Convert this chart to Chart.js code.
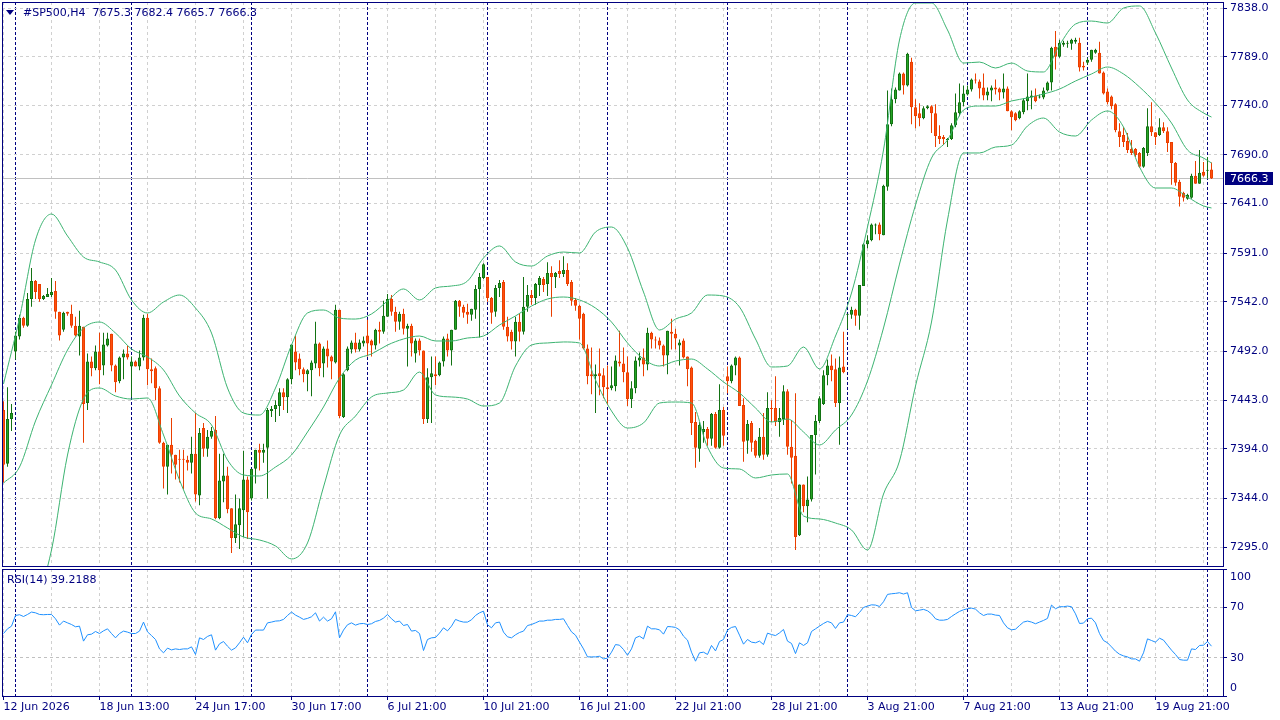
<!DOCTYPE html>
<html>
<head>
<meta charset="utf-8">
<title>#SP500,H4</title>
<script src="https://cdn.jsdelivr.net/npm/chart.js@4.4.1/dist/chart.umd.min.js"></script>
<style>
  html, body { margin: 0; padding: 0; background: #fff; overflow: hidden; }
  #wrap { position: relative; width: 1280px; height: 720px; }
  .pane { position: absolute; left: 0; width: 1280px; }
</style>
</head>
<body>
<div id="wrap">
  <div class="pane" style="top:0;height:568px"><canvas id="priceChart"></canvas></div>
  <div class="pane" style="top:567px;height:153px"><canvas id="rsiChart"></canvas></div>
</div>
<script>
// Chart values
const symbol = '#SP500,H4';

const opens = [
  7433, 7379, 7424, 7492, 7507, 7526, 7518, 7545, 7563, 7560,
  7545, 7547, 7549, 7553, 7532, 7514, 7532, 7530, 7518, 7507,
  7517, 7440, 7482, 7475, 7492, 7478, 7498, 7510, 7478, 7462,
  7486, 7490, 7477, 7482, 7477, 7486, 7526, 7474, 7475, 7455,
  7400, 7376, 7398, 7388, 7384, 7384, 7383, 7380, 7389, 7347,
  7415, 7394, 7406, 7413, 7324, 7361, 7367, 7334, 7304, 7317,
  7332, 7363, 7344, 7374, 7393, 7390, 7395, 7432, 7434, 7437,
  7451, 7446, 7464, 7492, 7485, 7474, 7469, 7473, 7480, 7500,
  7480, 7495, 7487, 7481, 7534, 7426, 7473, 7494, 7501, 7494,
  7500, 7508, 7503, 7498, 7514, 7512, 7527, 7545, 7532, 7522,
  7530, 7515, 7518, 7490, 7503, 7493, 7424, 7466, 7469, 7468,
  7482, 7505, 7493, 7514, 7543, 7537, 7532, 7529, 7534, 7555,
  7566, 7567, 7546, 7532, 7556, 7562, 7517, 7512, 7502, 7522,
  7512, 7537, 7549, 7546, 7559, 7565, 7560, 7571, 7567, 7573,
  7570, 7574, 7562, 7544, 7538, 7530, 7495, 7469, 7467, 7470,
  7468, 7456, 7455, 7457, 7482, 7480, 7471, 7444, 7455, 7483,
  7486, 7479, 7511, 7504, 7503, 7498, 7488, 7512, 7510, 7498,
  7503, 7487, 7476, 7421, 7394, 7411, 7414, 7404, 7429, 7395,
  7433, 7467, 7462, 7478, 7486, 7438, 7402, 7420, 7402, 7387,
  7406, 7388, 7435, 7435, 7421, 7424, 7452, 7396, 7387, 7307,
  7358, 7336, 7343, 7408, 7422, 7439, 7468, 7478, 7474, 7440,
  7477, 7529, 7529, 7534, 7528, 7558, 7600, 7604, 7619, 7620,
  7609, 7658, 7721, 7746, 7755, 7772, 7760, 7784, 7738, 7732,
  7727, 7737, 7739, 7732, 7709, 7708, 7705, 7706, 7720, 7732,
  7743, 7751, 7756, 7766, 7764, 7758, 7750, 7755, 7758, 7757,
  7753, 7757, 7734, 7732, 7727, 7733, 7744, 7748, 7750, 7748,
  7748, 7755, 7763, 7799, 7789, 7801, 7802, 7802, 7804, 7803,
  7780, 7783, 7786, 7793, 7793, 7773, 7754, 7749, 7741, 7714,
  7710, 7704, 7696, 7696, 7692, 7678, 7692, 7719, 7713, 7710,
  7718, 7714, 7703, 7682, 7663, 7652, 7646, 7647, 7669, 7661,
  7673, 7674, 7675.3
];
const highs = [
  7442, 7456, 7439, 7512, 7529, 7527, 7551, 7576, 7564, 7560,
  7549, 7556, 7566, 7563, 7532, 7532, 7532, 7539, 7527, 7533,
  7517, 7490, 7487, 7498, 7511, 7511, 7511, 7510, 7479, 7487,
  7494, 7498, 7487, 7483, 7493, 7529, 7530, 7485, 7477, 7457,
  7401, 7398, 7425, 7388, 7393, 7393, 7387, 7406, 7430, 7415,
  7420, 7413, 7416, 7427, 7389, 7389, 7376, 7334, 7348, 7344,
  7392, 7366, 7374, 7393, 7399, 7399, 7435, 7437, 7443, 7455,
  7455, 7465, 7499, 7508, 7490, 7476, 7474, 7483, 7522, 7501,
  7497, 7503, 7488, 7539, 7534, 7470, 7497, 7503, 7511, 7504,
  7507, 7524, 7504, 7515, 7522, 7543, 7550, 7549, 7537, 7532,
  7535, 7520, 7520, 7505, 7505, 7493, 7475, 7487, 7487, 7482,
  7507, 7510, 7514, 7544, 7544, 7539, 7540, 7535, 7559, 7571,
  7581, 7567, 7547, 7559, 7564, 7564, 7527, 7514, 7527, 7530,
  7567, 7559, 7554, 7561, 7568, 7567, 7582, 7578, 7572, 7584,
  7588, 7581, 7564, 7546, 7539, 7531, 7499, 7496, 7479, 7495,
  7475, 7478, 7477, 7488, 7513, 7496, 7487, 7462, 7487, 7491,
  7495, 7516, 7512, 7507, 7506, 7499, 7513, 7525, 7515, 7504,
  7505, 7487, 7477, 7431, 7421, 7422, 7416, 7430, 7431, 7459,
  7436, 7477, 7479, 7487, 7487, 7445, 7423, 7422, 7403, 7415,
  7430, 7451, 7443, 7467, 7435, 7458, 7454, 7423, 7450, 7358,
  7358, 7366, 7408, 7428, 7447, 7473, 7484, 7489, 7485, 7487,
  7512, 7530, 7537, 7535, 7559, 7601, 7609, 7621, 7621, 7622,
  7660, 7755, 7757, 7758, 7773, 7773, 7793, 7788, 7746, 7742,
  7739, 7740, 7740, 7741, 7720, 7710, 7707, 7722, 7752, 7762,
  7760, 7760, 7767, 7772, 7766, 7772, 7758, 7760, 7766, 7758,
  7772, 7759, 7735, 7733, 7735, 7747, 7772, 7755, 7757, 7751,
  7758, 7764, 7799, 7815, 7806, 7805, 7805, 7807, 7808, 7808,
  7784, 7788, 7796, 7797, 7804, 7774, 7757, 7750, 7742, 7722,
  7718, 7712, 7705, 7697, 7693, 7698, 7737, 7743, 7713, 7727,
  7723, 7718, 7703, 7683, 7665, 7653, 7651, 7671, 7684, 7695,
  7683, 7688, 7682.4
];
const lows = [
  7360, 7376, 7412, 7484, 7504, 7516, 7517, 7537, 7545, 7542,
  7544, 7547, 7547, 7525, 7503, 7512, 7528, 7516, 7507, 7488,
  7400, 7433, 7467, 7473, 7459, 7468, 7497, 7472, 7451, 7460,
  7464, 7484, 7446, 7477, 7473, 7483, 7458, 7460, 7443, 7399,
  7354, 7348, 7369, 7363, 7360, 7353, 7372, 7369, 7341, 7337,
  7386, 7386, 7404, 7323, 7323, 7340, 7329, 7289, 7299, 7293,
  7305, 7303, 7342, 7359, 7372, 7380, 7344, 7426, 7421, 7427,
  7433, 7430, 7459, 7473, 7468, 7461, 7452, 7447, 7475, 7467,
  7466, 7476, 7464, 7480, 7425, 7425, 7472, 7490, 7491, 7492,
  7497, 7487, 7487, 7494, 7500, 7510, 7527, 7528, 7512, 7514,
  7509, 7477, 7487, 7481, 7488, 7419, 7420, 7420, 7458, 7467,
  7477, 7487, 7478, 7514, 7527, 7526, 7520, 7523, 7525, 7506,
  7565, 7542, 7520, 7527, 7547, 7514, 7502, 7494, 7487, 7502,
  7509, 7532, 7539, 7539, 7548, 7552, 7548, 7527, 7556, 7566,
  7567, 7558, 7538, 7533, 7504, 7494, 7459, 7449, 7430, 7448,
  7445, 7438, 7453, 7452, 7477, 7461, 7437, 7435, 7450, 7477,
  7467, 7473, 7495, 7495, 7494, 7477, 7469, 7494, 7494, 7478,
  7485, 7457, 7408, 7375, 7381, 7400, 7397, 7397, 7394, 7394,
  7397, 7450, 7460, 7468, 7437, 7381, 7389, 7391, 7385, 7385,
  7383, 7386, 7421, 7417, 7406, 7418, 7388, 7359, 7292, 7306,
  7330, 7320, 7341, 7368, 7420, 7438, 7458, 7462, 7436, 7398,
  7470, 7515, 7525, 7518, 7514, 7558, 7596, 7603, 7610, 7604,
  7609, 7654, 7719, 7742, 7755, 7751, 7759, 7721, 7717, 7719,
  7726, 7736, 7712, 7698, 7701, 7700, 7698, 7705, 7718, 7729,
  7739, 7750, 7754, 7762, 7747, 7745, 7745, 7744, 7751, 7745,
  7747, 7734, 7715, 7724, 7726, 7731, 7735, 7736, 7743, 7747,
  7746, 7754, 7755, 7776, 7788, 7799, 7798, 7796, 7802, 7774,
  7775, 7781, 7784, 7792, 7772, 7751, 7741, 7736, 7713, 7698,
  7698, 7692, 7690, 7688, 7677, 7677, 7689, 7709, 7700, 7709,
  7712, 7693, 7660, 7659, 7638, 7643, 7645, 7646, 7661, 7661,
  7668, 7666, 7665.7
];
const closes = [
  7378, 7424, 7430, 7508, 7526, 7518, 7545, 7563, 7552, 7545,
  7548, 7550, 7552, 7532, 7508, 7531, 7530, 7518, 7508, 7518,
  7439, 7482, 7475, 7492, 7473, 7499, 7505, 7478, 7461, 7486,
  7490, 7486, 7482, 7477, 7486, 7526, 7474, 7472, 7455, 7400,
  7376, 7398, 7388, 7378, 7383, 7383, 7380, 7389, 7348, 7410,
  7394, 7406, 7412, 7324, 7362, 7367, 7333, 7304, 7318, 7334,
  7363, 7330, 7374, 7393, 7390, 7393, 7433, 7434, 7438, 7451,
  7446, 7464, 7499, 7481, 7474, 7469, 7473, 7481, 7500, 7475,
  7495, 7487, 7482, 7534, 7427, 7469, 7495, 7501, 7494, 7501,
  7503, 7500, 7498, 7514, 7512, 7528, 7545, 7532, 7522, 7530,
  7515, 7518, 7500, 7503, 7493, 7424, 7466, 7470, 7467, 7481,
  7505, 7493, 7514, 7543, 7537, 7531, 7529, 7535, 7555, 7567,
  7580, 7546, 7531, 7556, 7561, 7517, 7507, 7502, 7522, 7512,
  7537, 7549, 7546, 7560, 7566, 7559, 7571, 7567, 7571, 7570,
  7574, 7560, 7543, 7538, 7525, 7495, 7467, 7467, 7469, 7467,
  7456, 7454, 7458, 7483, 7480, 7471, 7444, 7455, 7483, 7486,
  7479, 7511, 7504, 7503, 7498, 7488, 7513, 7510, 7505, 7501,
  7486, 7474, 7420, 7395, 7418, 7414, 7404, 7429, 7395, 7433,
  7407, 7462, 7478, 7486, 7437, 7401, 7419, 7400, 7387, 7406,
  7388, 7435, 7434, 7421, 7425, 7452, 7396, 7385, 7305, 7358,
  7336, 7343, 7408, 7422, 7445, 7468, 7478, 7473, 7440, 7476,
  7471, 7530, 7534, 7528, 7559, 7600, 7604, 7620, 7620, 7610,
  7659, 7721, 7746, 7756, 7772, 7760, 7792, 7738, 7729, 7727,
  7737, 7739, 7732, 7709, 7706, 7706, 7706, 7720, 7733, 7743,
  7752, 7756, 7766, 7765, 7757, 7750, 7754, 7758, 7756, 7753,
  7757, 7734, 7728, 7725, 7734, 7745, 7749, 7750, 7744, 7749,
  7755, 7763, 7798, 7789, 7803, 7803, 7803, 7806, 7806, 7778,
  7778, 7786, 7796, 7796, 7772, 7752, 7743, 7739, 7715, 7708,
  7703, 7695, 7692, 7690, 7678, 7697, 7719, 7713, 7708, 7718,
  7714, 7702, 7682, 7662, 7648, 7647, 7650, 7669, 7661, 7672,
  7669, 7675, 7666.3
];

// Bollinger Bands (20, 2), read at every fourth bar
const bandIdx = [
  0, 4, 8, 12, 16, 20, 24, 28, 32, 36, 40, 44, 48, 52, 56, 60, 64, 68, 72, 76,
  80, 84, 88, 92, 96, 100, 104, 108, 112, 116, 120, 124, 128, 132, 136, 140, 144, 148, 152, 156,
  160, 164, 168, 172, 176, 180, 184, 188, 192, 196, 200, 204, 208, 212, 216, 220, 224, 228, 232, 236,
  240, 244, 248, 252, 256, 260, 264, 268, 272, 276, 280, 284, 288, 292, 296, 300, 302
];
const bbUpper = [
  7459.3, 7525.7, 7604.3, 7630.5, 7608.4, 7587.2, 7582.2, 7574.1, 7543.9, 7530.8,
  7541.9, 7548.9, 7535.8, 7510.6, 7455.2, 7430.0, 7428.0, 7455.2, 7498.5, 7530.8,
  7533.8, 7525.7, 7524.7, 7529.8, 7542.9, 7555.0, 7543.9, 7556.0, 7558.0, 7563.0,
  7586.2, 7598.3, 7582.2, 7578.1, 7588.2, 7592.2, 7591.2, 7612.4, 7617.4, 7596.3,
  7551.9, 7513.7, 7524.7, 7530.8, 7548.9, 7547.9, 7536.8, 7504.6, 7476.4, 7477.4,
  7496.5, 7474.4, 7507.6, 7550.9, 7617.4, 7695.0, 7805.8, 7843.1, 7843.1, 7815.9,
  7782.6, 7783.6, 7777.6, 7782.6, 7774.6, 7773.6, 7800.8, 7821.9, 7824.9, 7822.9,
  7838.0, 7840.1, 7812.9, 7777.6, 7745.4, 7732.3, 7728.2
];
const bbMiddle = [
  7359.5, 7375.6, 7422.0, 7458.3, 7493.5, 7515.7, 7521.7, 7510.6, 7494.5, 7486.5,
  7473.4, 7447.2, 7430.0, 7418.0, 7382.7, 7367.6, 7366.6, 7375.6, 7387.7, 7410.9,
  7436.1, 7465.3, 7483.4, 7489.5, 7498.5, 7504.6, 7507.6, 7502.6, 7502.6, 7505.6,
  7507.6, 7518.7, 7527.8, 7537.8, 7544.9, 7546.9, 7543.9, 7535.8, 7521.7, 7500.6,
  7484.4, 7477.4, 7482.4, 7484.4, 7474.4, 7461.3, 7450.2, 7435.1, 7421.0, 7424.0,
  7410.9, 7397.8, 7412.9, 7428.0, 7462.3, 7515.7, 7580.1, 7639.6, 7686.9, 7705.1,
  7735.3, 7739.3, 7739.3, 7744.4, 7747.4, 7751.4, 7756.4, 7764.5, 7771.6, 7778.6,
  7771.6, 7758.5, 7742.3, 7722.2, 7695.0, 7686.9, 7681.9
];
const bbLower = [
  7259.8, 7225.5, 7239.6, 7292.0, 7387.7, 7444.1, 7455.2, 7447.2, 7444.1, 7445.2,
  7407.9, 7362.5, 7329.3, 7323.3, 7314.2, 7305.1, 7302.1, 7296.1, 7283.0, 7299.1,
  7355.5, 7407.9, 7427.0, 7446.2, 7450.2, 7453.2, 7471.3, 7448.2, 7446.2, 7444.1,
  7437.1, 7440.1, 7477.4, 7498.5, 7500.6, 7501.6, 7500.6, 7463.3, 7432.1, 7414.9,
  7420.0, 7440.1, 7441.1, 7440.1, 7395.8, 7374.6, 7373.6, 7364.6, 7367.6, 7368.6,
  7326.3, 7323.3, 7319.2, 7312.2, 7292.0, 7348.4, 7381.7, 7457.2, 7521.7, 7624.5,
  7692.0, 7692.0, 7698.0, 7700.0, 7719.2, 7727.2, 7713.1, 7709.1, 7725.2, 7734.3,
  7718.2, 7677.9, 7656.7, 7656.7, 7647.6, 7638.6, 7636.6
];

// RSI(14), one value per bar
const rsiValues = [
  49.2, 52.9, 55.0, 63.4, 64.0, 62.6, 64.2, 66.1, 65.5, 64.2,
  64.0, 64.2, 64.2, 60.8, 55.8, 59.0, 57.6, 56.3, 54.5, 55.0,
  43.2, 48.2, 48.7, 50.8, 49.2, 51.3, 52.9, 49.2, 45.8, 49.2,
  51.1, 50.3, 49.2, 49.2, 51.1, 58.2, 50.5, 47.6, 44.5, 37.1,
  34.0, 37.7, 36.3, 37.1, 36.6, 37.1, 37.1, 38.7, 32.7, 45.8,
  44.5, 46.9, 48.2, 36.1, 41.1, 42.9, 39.2, 36.1, 37.9, 41.9,
  46.3, 41.9, 48.4, 51.9, 51.9, 51.9, 57.6, 58.2, 59.0, 59.2,
  60.3, 63.4, 66.1, 63.7, 62.1, 60.3, 61.1, 62.4, 65.5, 59.0,
  62.1, 59.0, 60.8, 66.3, 45.8, 51.9, 56.1, 57.6, 55.8, 56.9,
  57.1, 56.3, 56.9, 58.7, 59.5, 61.3, 64.2, 60.8, 58.2, 59.0,
  55.5, 56.3, 51.1, 51.6, 49.2, 35.8, 44.5, 45.8, 46.1, 49.5,
  53.7, 51.3, 55.0, 60.3, 59.0, 58.2, 58.2, 60.0, 63.4, 65.5,
  66.8, 56.1, 53.7, 57.6, 58.2, 50.3, 46.6, 45.8, 48.2, 50.0,
  51.1, 55.5, 56.3, 57.6, 59.0, 59.0, 59.7, 59.7, 60.3, 60.3,
  60.8, 55.5, 50.5, 47.9, 42.4, 37.1, 30.8, 30.8, 30.8, 31.3,
  29.2, 29.8, 34.5, 40.5, 40.0, 36.6, 32.1, 37.1, 45.8, 47.1,
  45.0, 55.0, 52.9, 52.9, 52.1, 48.7, 54.7, 54.5, 54.0, 52.1,
  47.1, 44.0, 34.5, 27.4, 34.0, 34.5, 32.7, 39.8, 35.5, 42.9,
  44.5, 51.9, 54.0, 54.7, 47.9, 40.8, 44.5, 42.4, 41.9, 43.2,
  40.5, 49.5, 48.4, 47.6, 49.7, 52.4, 43.2, 41.4, 33.4, 41.9,
  39.8, 41.9, 50.8, 52.9, 55.0, 57.1, 58.7, 57.6, 53.2, 57.6,
  58.2, 64.0, 63.4, 62.4, 65.8, 69.7, 70.8, 71.8, 71.6, 70.5,
  74.2, 80.0, 80.5, 80.8, 81.3, 80.3, 81.3, 69.7, 67.1, 67.6,
  68.2, 67.1, 64.7, 60.8, 59.7, 59.7, 60.3, 62.6, 64.7, 66.6,
  67.9, 68.7, 69.2, 68.4, 65.5, 63.4, 64.5, 64.5, 63.7, 63.4,
  57.6, 53.7, 52.1, 52.6, 55.5, 58.2, 59.0, 58.2, 56.9, 58.2,
  59.5, 61.1, 71.6, 68.7, 70.3, 70.3, 70.8, 70.3, 64.7, 57.1,
  57.4, 60.8, 61.3, 57.6, 49.2, 43.7, 41.9, 38.7, 35.3, 32.9,
  31.6, 30.8, 29.2, 29.2, 27.4, 34.0, 45.0, 43.7, 42.4, 45.5,
  44.0, 40.0, 36.1, 32.7, 28.7, 28.2, 28.2, 37.1, 36.6, 39.8,
  40.0, 42.9, 39.2188
];

// Axis ticks and labels
const priceTicks = [7838.0, 7789.0, 7740.0, 7690.0, 7641.0, 7591.0, 7542.0, 7492.0, 7443.0, 7394.0, 7344.0, 7295.0];
const rsiLevels = [100, 70, 30, 0];
const timeTickIdx = [0, 24, 48, 72, 96, 120, 144, 168, 192, 216, 240, 264, 288];
const timeLabels = [
  '12 Jun 2026', '18 Jun 13:00', '24 Jun 17:00', '30 Jun 17:00', '6 Jul 21:00', '10 Jul 21:00',
  '16 Jul 21:00', '22 Jul 21:00', '28 Jul 21:00', '3 Aug 21:00', '7 Aug 21:00', '13 Aug 21:00', '19 Aug 21:00'
];
const gridIdx = [0, 12, 24, 36, 48, 60, 72, 84, 96, 108, 120, 132, 144, 156, 168, 180, 192, 204, 216, 228, 240, 252, 264, 276, 288, 300];
const separatorIdx = [3, 32, 62, 91, 121, 151, 181, 211, 241, 271, 301];

// Look
const NAVY = '#000080';
const GRID = '#d0d0d0';
const BULL = '#25a525', BULL_LINE = '#137213';
const BEAR = '#ff4f0f', BEAR_LINE = '#ea3f00';
const BAND = '#3cb371';
const RSI_COLOR = '#1e90ff';
const FONT = '11px "DejaVu Sans", sans-serif';
const AXIS_W = 57;
const xMin = -0.375, xMax = 304.875;

Chart.defaults.font.family = '"DejaVu Sans", sans-serif';
Chart.defaults.font.size = 11;
Chart.defaults.color = NAVY;

// grid every 12 bars plus the weekly separators, on one axis
const xTickValues = gridIdx.concat(separatorIdx).sort((a, b) => a - b);
const isSep = c => !!(c.tick && separatorIdx.includes(c.tick.value));

function setTicks(values) {
  return scale => { scale.ticks = values.map(v => ({ value: v })); };
}
function noPad(scale) {
  scale.paddingTop = 0; scale.paddingBottom = 0;
  scale.paddingLeft = 0; scale.paddingRight = 0;
}

function timeAxis(withLabels) {
  return {
    type: 'linear', position: 'bottom', min: xMin, max: xMax, offset: false,
    afterBuildTicks: setTicks(xTickValues),
    afterFit: s => { s.height = withLabels ? 24 : 0; noPad(s); },
    ticks: {
      display: withLabels, color: NAVY, align: 'start', autoSkip: false,
      maxRotation: 0, minRotation: 0, padding: 1,
      callback: v => { const i = timeTickIdx.indexOf(v); return i >= 0 ? timeLabels[i] : ''; }
    },
    grid: {
      offset: false, lineWidth: 1, drawTicks: withLabels, tickLength: 4, tickBorderDash: [],
      color: c => isSep(c) ? NAVY : GRID,
      tickColor: c => (c.tick && timeTickIdx.includes(c.tick.value)) ? NAVY : 'rgba(0,0,0,0)'
    },
    border: { display: false, dash: c => isSep(c) ? [3, 2] : [3, 3] }
  };
}

const framePlugin = {
  id: 'frame',
  afterDatasetsDraw(chart) {
    const { ctx, chartArea: a } = chart;
    ctx.save();
    ctx.strokeStyle = NAVY;
    ctx.lineWidth = 1;
    ctx.strokeRect(a.left + 0.5, a.top + 0.5, a.right - a.left, a.bottom - a.top);
    ctx.restore();
  }
};

const bull = closes.map((c, i) => c >= opens[i]);
const last = closes.length - 1;

const pricePlugin = {
  id: 'priceDecor',
  beforeDatasetsDraw(chart) {
    const { ctx, chartArea: a } = chart;
    const y = Math.round(chart.scales.y.getPixelForValue(closes[last])) + 0.5;
    ctx.save();
    ctx.strokeStyle = '#c0c0c0';
    ctx.lineWidth = 1;
    ctx.beginPath();
    ctx.moveTo(a.left, y);
    ctx.lineTo(a.right, y);
    ctx.stroke();
    ctx.restore();
  },
  afterDraw(chart) {
    const { ctx, chartArea: a } = chart;
    const y = Math.round(chart.scales.y.getPixelForValue(closes[last]));
    ctx.save();
    // last price box
    ctx.fillStyle = NAVY;
    ctx.fillRect(a.right + 2, y - 6, 48, 13);
    ctx.fillStyle = '#ffffff';
    ctx.font = FONT;
    ctx.textBaseline = 'middle';
    ctx.fillText(closes[last].toFixed(1), a.right + 7, y + 1);
    // header
    ctx.fillStyle = NAVY;
    ctx.beginPath();
    ctx.moveTo(6, 10);
    ctx.lineTo(14, 10);
    ctx.lineTo(10, 15);
    ctx.closePath();
    ctx.fill();
    const head = symbol + '  ' + [opens[last], highs[last], lows[last], closes[last]].map(v => v.toFixed(1)).join(' ');
    ctx.fillText(head, 23, 13);
    ctx.restore();
  }
};

const rsiPlugin = {
  id: 'rsiDecor',
  afterDraw(chart) {
    const { ctx, chartArea: a } = chart;
    const ys = chart.scales.y;
    ctx.save();
    ctx.font = FONT;
    ctx.fillStyle = NAVY;
    ctx.textBaseline = 'middle';
    rsiLevels.forEach(v => {
      let py = ys.getPixelForValue(v);
      py = Math.min(Math.max(py, a.top + 8), a.bottom - 8);
      ctx.fillText(String(v), a.right + 7, py);
    });
    ctx.fillText('RSI(14) ' + rsiValues[last], 7, 13);
    ctx.restore();
  }
};

// Price pane: candles as floating bars plus Bollinger Bands
new Chart(document.getElementById('priceChart'), {
  type: 'bar',
  data: {
    datasets: [
      { type: 'line', data: bandIdx.map((k, j) => ({ x: k, y: bbUpper[j] })), borderColor: BAND, borderWidth: 1, pointRadius: 0, cubicInterpolationMode: 'monotone', order: 0 },
      { type: 'line', data: bandIdx.map((k, j) => ({ x: k, y: bbMiddle[j] })), borderColor: BAND, borderWidth: 1, pointRadius: 0, cubicInterpolationMode: 'monotone', order: 0 },
      { type: 'line', data: bandIdx.map((k, j) => ({ x: k, y: bbLower[j] })), borderColor: BAND, borderWidth: 1, pointRadius: 0, cubicInterpolationMode: 'monotone', order: 0 },
      {
        data: opens.map((o, i) => ({ x: i, y: [o, closes[i]] })),
        backgroundColor: bull.map(b => b ? BULL : BEAR),
        borderColor: bull.map(b => b ? BULL_LINE : BEAR_LINE),
        borderWidth: 1, borderSkipped: false, minBarLength: 1, inflateAmount: 0,
        grouped: false, barPercentage: 1, categoryPercentage: 1, maxBarThickness: 3,
        order: 1
      },
      {
        data: highs.map((h, i) => ({ x: i, y: [lows[i], h] })),
        backgroundColor: bull.map(b => b ? BULL_LINE : BEAR_LINE),
        borderWidth: 0, inflateAmount: 0,
        grouped: false, barPercentage: 1, categoryPercentage: 1, maxBarThickness: 1,
        order: 2
      }
    ]
  },
  options: {
    responsive: true,
    maintainAspectRatio: false,
    animation: false,
    devicePixelRatio: 1,
    events: [],
    layout: { padding: { left: 2, top: 2, right: 0, bottom: 2 } },
    plugins: { legend: { display: false }, tooltip: { enabled: false } },
    scales: {
      x: timeAxis(false),
      y: {
        type: 'linear', position: 'right', min: 7275.9, max: 7844.1, bounds: 'data',
        afterBuildTicks: setTicks(priceTicks),
        afterFit: s => { s.width = AXIS_W; noPad(s); },
        ticks: { color: NAVY, padding: 3, callback: v => Number(v).toFixed(1) },
        grid: { color: GRID, lineWidth: 1, tickLength: 4, tickColor: NAVY, tickBorderDash: [] },
        border: { display: false, dash: [3, 3] }
      }
    }
  },
  plugins: [pricePlugin, framePlugin]
});

// RSI pane
new Chart(document.getElementById('rsiChart'), {
  type: 'line',
  data: {
    datasets: [{
      data: rsiValues.map((v, i) => ({ x: i, y: v })),
      borderColor: RSI_COLOR, borderWidth: 1, pointRadius: 0, tension: 0
    }]
  },
  options: {
    responsive: true,
    maintainAspectRatio: false,
    animation: false,
    devicePixelRatio: 1,
    events: [],
    layout: { padding: { left: 2, top: 2, right: 0, bottom: 0 } },
    plugins: { legend: { display: false }, tooltip: { enabled: false } },
    scales: {
      x: timeAxis(true),
      y: {
        type: 'linear', position: 'right', min: 0, max: 100, bounds: 'data',
        afterBuildTicks: setTicks(rsiLevels),
        afterFit: s => { s.width = AXIS_W; noPad(s); },
        ticks: { display: false },
        grid: {
          lineWidth: 1, tickLength: 4, tickColor: NAVY, tickBorderDash: [],
          color: c => (c.tick && (c.tick.value === 70 || c.tick.value === 30)) ? '#c0c0c0' : 'rgba(0,0,0,0)'
        },
        border: { display: false, dash: [3, 3] }
      }
    }
  },
  plugins: [rsiPlugin, framePlugin]
});
</script>
</body>
</html>
